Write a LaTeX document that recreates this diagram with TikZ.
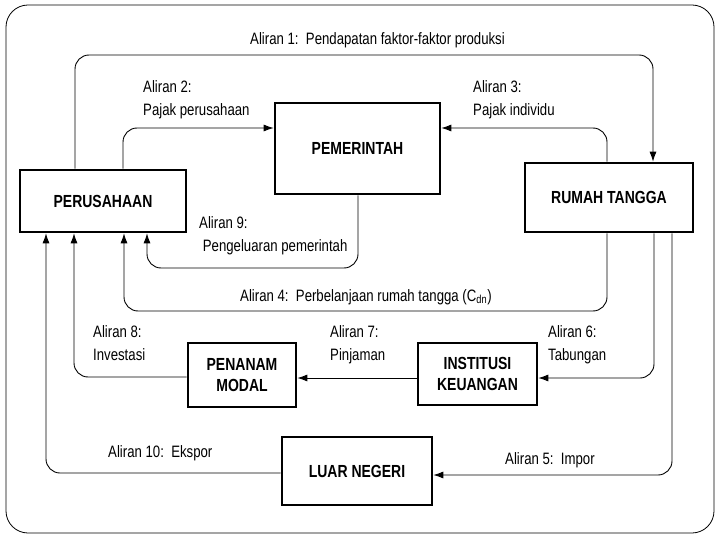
\documentclass[tikz,border=0pt]{standalone}
\usepackage{fontspec}
\setmainfont{Liberation Sans}[FakeStretch=0.8]
\usetikzlibrary{arrows.meta}
\tikzset{
  sector/.style={draw,line width=2.6pt,inner sep=0pt,align=center,
    font=\fontsize{17.5}{21}\selectfont\bfseries},
  flow/.style={line width=0.9pt,rounded corners=14pt,
    -{Latex[length=10pt,width=7pt]}},
  lab/.style={anchor=north west,align=left,inner sep=0pt,
    font=\fontsize{16.5}{23.5}\selectfont}
}
\begin{document}
\begin{tikzpicture}[x=1pt,y=-1pt]
\useasboundingbox (0,0) rectangle (720,540);
\draw[line width=0.8pt,rounded corners=22pt] (6,5) rectangle (714,533);

\node[sector,minimum width=166pt,minimum height=62pt] (perus) at (103,201) {PERUSAHAAN};
\node[sector,minimum width=165pt,minimum height=91pt] (pemer) at (357.5,148.5) {PEMERINTAH};
\node[sector,minimum width=168pt,minimum height=69pt] (rumah) at (609,197.5) {RUMAH TANGGA};
\node[sector,minimum width=108pt,minimum height=64pt] (penanam) at (242,375) {PENANAM\\MODAL};
\node[sector,minimum width=119pt,minimum height=62pt] (instit) at (477.5,374) {INSTITUSI\\KEUANGAN};
\node[sector,minimum width=150pt,minimum height=68pt] (luar) at (357,471) {LUAR NEGERI};

\draw[flow] (perus.north -| 75,0) -- (75,55) -| (rumah.north -| 653,0);
\draw[flow] (perus.north -| 123,0) |- (pemer.west |- 0,128);
\draw[flow] (rumah.north -| 607,0) |- (pemer.east |- 0,128);
\draw[flow] (pemer.south -| 358,0) -- (358,268) -| (perus.south -| 147,0);
\draw[flow] (rumah.south -| 607,0) -- (607,311) -| (perus.south -| 124,0);
\draw[flow] (rumah.south -| 654,0) |- (instit.east |- 0,378);
\draw[flow] (rumah.south -| 672,0) |- (luar.east |- 0,475);
\draw[flow] (instit.west |- 0,378) -- (penanam.east |- 0,378);
\draw[flow] (penanam.west |- 0,377) -| (perus.south -| 74,0);
\draw[flow] (luar.west |- 0,473) -| (perus.south -| 46,0);

\node[lab] (l1) at (250,32) {Aliran 1:\ \ Pendapatan faktor-faktor produksi};
\node[lab] (l2) at (143,80) {Aliran 2:\\Pajak perusahaan};
\node[lab] (l3) at (473,80) {Aliran 3:\\Pajak individu};
\node[lab] (l9) at (199,216) {Aliran 9:\\\ Pengeluaran pemerintah};
\node[lab] (l4) at (240,289) {Aliran 4:\ \ Perbelanjaan rumah tangga (C\textsubscript{dn})};
\node[lab] (l8) at (93,325) {Aliran 8:\\Investasi};
\node[lab] (l7) at (330,325) {Aliran 7:\\Pinjaman};
\node[lab] (l6) at (548,325) {Aliran 6:\\Tabungan};
\node[lab] (l10) at (108,445) {Aliran 10:\ \ Ekspor};
\node[lab] (l5) at (505,452) {Aliran 5:\ \ Impor};
\end{tikzpicture}
\end{document}
